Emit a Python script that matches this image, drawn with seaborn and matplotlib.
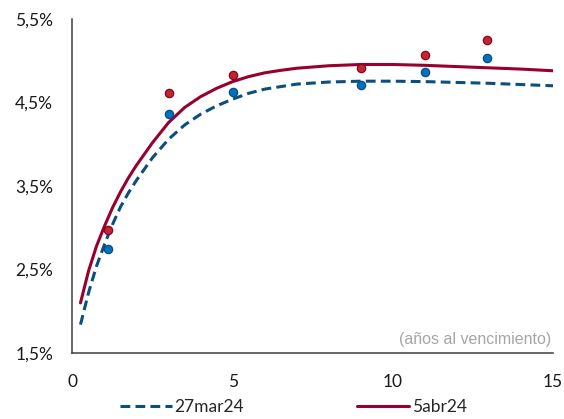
import numpy as np
import pandas as pd
import matplotlib
matplotlib.use("Agg")
import matplotlib.pyplot as plt
import seaborn as sns

# curvas ajustadas (años al vencimiento, rentabilidad %)
plazos = [0.25, 0.5, 0.75, 1.0, 1.25, 1.5, 1.75, 2.0, 2.5, 3.0, 3.5, 4.0, 4.5, 5.0,
          5.5, 6.0, 6.5, 7.0, 8.0, 9.0, 10.0, 11.0, 12.0, 13.0, 14.0, 15.0]
curva_27mar24 = [1.84, 2.22, 2.54, 2.80, 3.04, 3.25, 3.42, 3.57, 3.84, 4.06, 4.23, 4.36, 4.46, 4.54,
                 4.61, 4.66, 4.69, 4.72, 4.745, 4.755, 4.755, 4.75, 4.74, 4.73, 4.715, 4.70]
curva_5abr24 = [2.10, 2.48, 2.78, 3.02, 3.24, 3.43, 3.60, 3.75, 4.02, 4.26, 4.44, 4.57, 4.67, 4.75,
                4.81, 4.855, 4.885, 4.91, 4.94, 4.955, 4.955, 4.945, 4.93, 4.915, 4.90, 4.88]

# observaciones de mercado
venc_obs = [1.1, 3.0, 5.0, 9.0, 11.0, 12.95]
obs_27mar24 = [2.75, 4.36, 4.63, 4.71, 4.87, 5.03]
obs_5abr24 = [2.97, 4.61, 4.83, 4.91, 5.07, 5.25]

yticks = [1.5, 2.5, 3.5, 4.5, 5.5]
ytick_labels = ["1,5%", "2,5%", "3,5%", "4,5%", "5,5%"]
xticks = [0, 5, 10, 15]

col_azul = "#0B4F7E"
col_rojo = "#98002E"

sns.set_style("white")
plt.rcParams["font.family"] = ["Lato", "DejaVu Sans"]

df_curvas = pd.DataFrame({"t": plazos, "a": curva_27mar24, "b": curva_5abr24})
df_obs = pd.DataFrame({"t": venc_obs, "a": obs_27mar24, "b": obs_5abr24})

fig = plt.figure(figsize=(5.64, 4.19), dpi=100)
ax = fig.add_axes([0.1285, 0.1575, 0.852, 0.7972])

sns.lineplot(data=df_curvas, x="t", y="a", ax=ax, color=col_azul, linewidth=2.2,
             linestyle=(0, (3.2, 1.7)), label="27mar24", zorder=2)
sns.lineplot(data=df_curvas, x="t", y="b", ax=ax, color=col_rojo, linewidth=2.2,
             label="5abr24", zorder=2)
sns.scatterplot(data=df_obs, x="t", y="a", ax=ax, color="#0070C0", edgecolor="#0B4F7E",
                s=36, linewidth=0.9, zorder=3)
sns.scatterplot(data=df_obs, x="t", y="b", ax=ax, color="#C0262D", edgecolor="#8A0025",
                s=36, linewidth=0.9, zorder=3)

ax.set_xlim(0, 15)
ax.set_ylim(1.5, 5.5)
ax.set_xticks(xticks)
ax.set_yticks(yticks)
ax.set_yticklabels(ytick_labels)
ax.set_xlabel("")
ax.set_ylabel("")
ax.tick_params(axis="both", length=0, labelsize=12.5, colors="#1a1a1a")
ax.tick_params(axis="y", pad=14)
ax.tick_params(axis="x", pad=15)
for s in ["top", "right"]:
    ax.spines[s].set_visible(False)
for s in ["left", "bottom"]:
    ax.spines[s].set_color("#404040")
    ax.spines[s].set_linewidth(1.1)

ax.text(0.997, 0.04, "(años al vencimiento)", transform=ax.transAxes, ha="right",
        va="center", color="#A6A6A6", fontsize=11.5, family=["Liberation Sans", "DejaVu Sans"])

handles, labels = ax.get_legend_handles_labels()
ax.get_legend().remove()
fig.legend(handles, labels, loc="center", bbox_to_anchor=(0.52, 0.028), ncol=2,
           frameon=False, fontsize=12.5, handlelength=3.0, handletextpad=0.15,
           columnspacing=6.5)

fig.savefig("out.png", dpi=100)
